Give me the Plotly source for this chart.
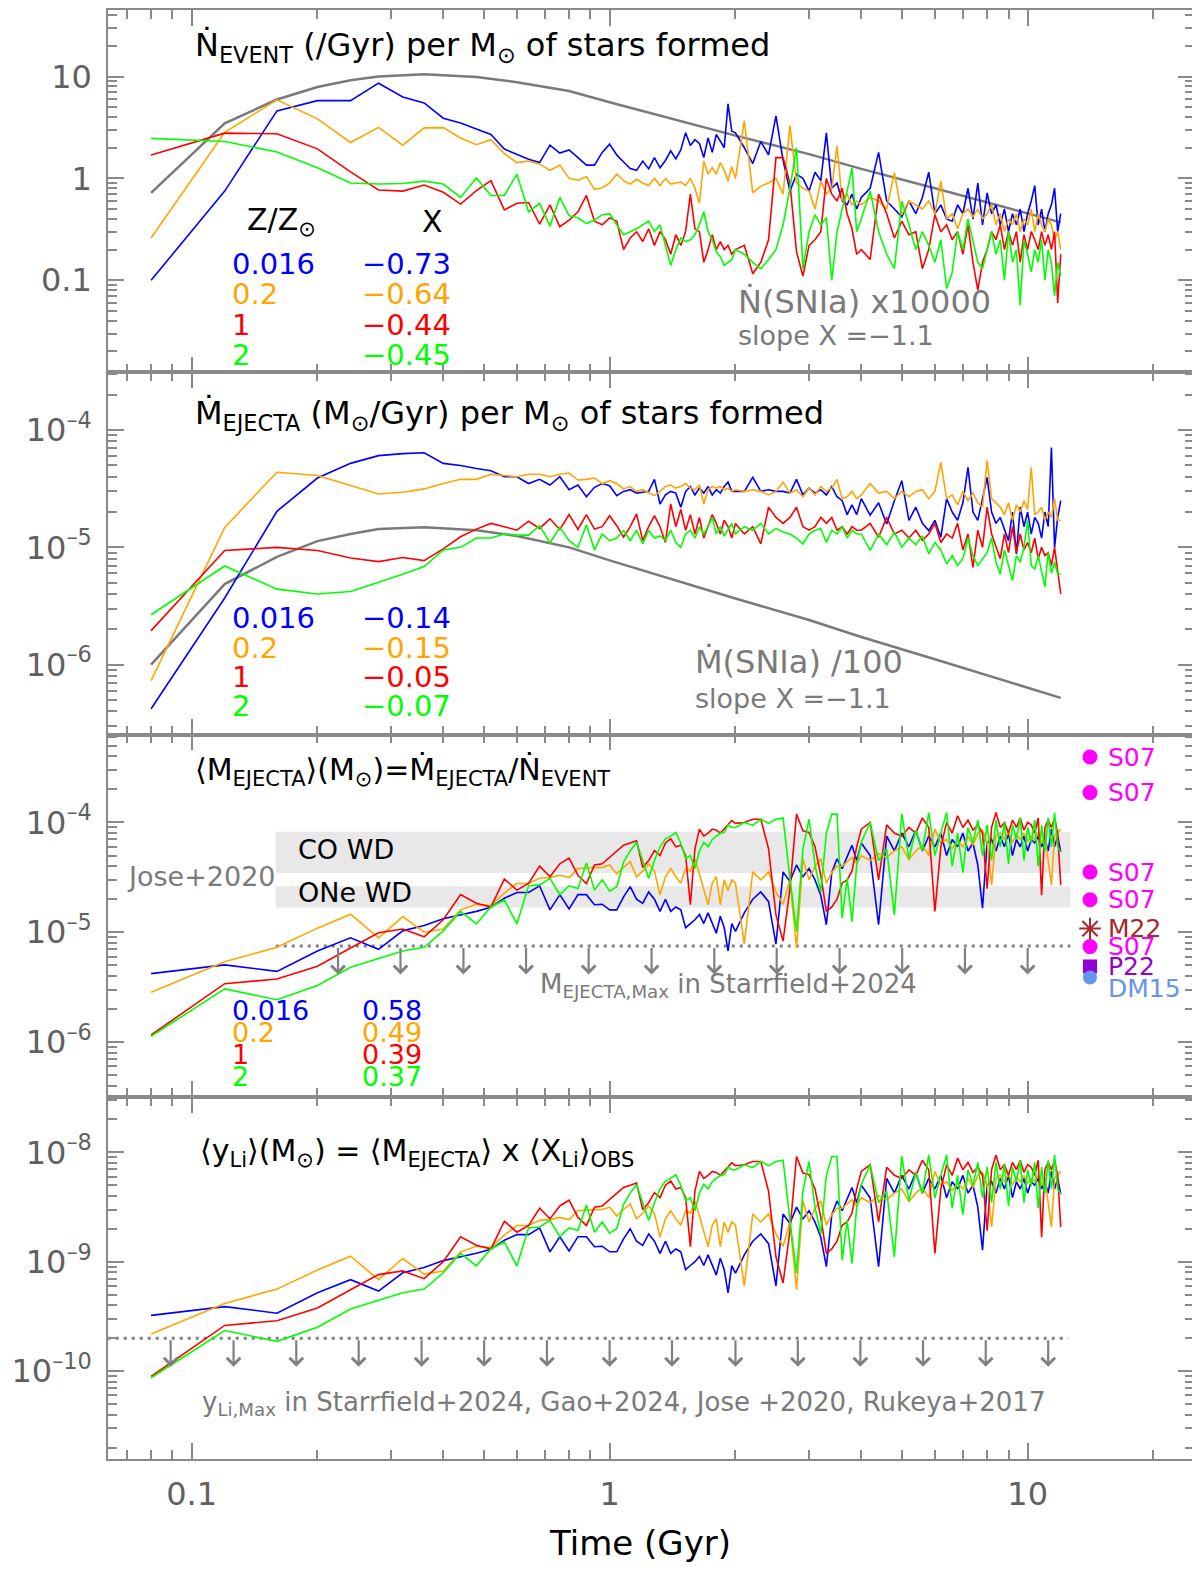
import math
import plotly.graph_objects as go
from plotly.subplots import make_subplots

# model time grid (Gyr)
TIME = [0.08, 0.12, 0.16, 0.2, 0.24, 0.28, 0.32, 0.36, 0.4, 0.44, 0.48, 0.52, 0.56, 0.6, 0.64, 0.68, 0.72, 0.76, 0.8, 0.84, 0.88, 0.92, 0.96, 1.0,
        1.04, 1.08, 1.12, 1.16, 1.2, 1.24, 1.28, 1.32, 1.36, 1.4, 1.44, 1.48, 1.52, 1.56, 1.6, 1.64, 1.68, 1.72, 1.76, 1.8, 1.84, 1.88, 1.92, 1.96, 2.0,
        2.1, 2.2, 2.3, 2.4, 2.5, 2.6, 2.7, 2.8, 2.9, 3.0, 3.1, 3.2, 3.3, 3.4, 3.5, 3.6, 3.7, 3.8, 3.9, 4.0,
        4.2, 4.4, 4.6, 4.8, 5.0, 5.2, 5.4, 5.6, 5.8, 6.0, 6.2, 6.4, 6.6, 6.8, 7.0, 7.2, 7.4, 7.6, 7.8, 8.0,
        8.2, 8.4, 8.6, 8.8, 9.0, 9.2, 9.4, 9.6, 9.8, 10.0, 10.2, 10.4, 10.6, 10.8, 11.0, 11.2, 11.4, 11.6, 11.8, 12.0]

Z_LABELS = ["0.016", "0.2", "1", "2"]
COLORS = ["#0000ff", "#ffa500", "#ff0000", "#00ff00"]
SLOPE_NDOT = ["\u22120.73", "\u22120.64", "\u22120.44", "\u22120.45"]
SLOPE_MDOT = ["\u22120.14", "\u22120.15", "\u22120.05", "\u22120.07"]
SLOPE_MEJ = ["0.58", "0.49", "0.39", "0.37"]

# N_dot event rate (/Gyr per Msun formed)
NDOT_BLUE = [0.1, 0.75, 4.6, 5.8, 5.8, 8.6, 6.3, 5.5, 3.9, 3.5, 3.05, 2.7, 1.94, 1.73, 1.54, 1.43, 2.12, 1.77, 1.9, 1.6, 1.35, 1.35, 1.8, 2.17,
             1.7, 1.45, 1.25, 1.2, 1.48, 1.24, 1.6, 1.27, 1.5, 1.86, 1.55, 1.9, 2.8, 2.1, 2.4, 2.2, 1.6, 2.5, 1.8, 2.7, 2.3, 2.0, 5.4, 2.9, 2.8,
             2.0, 1.4, 2.3, 1.7, 4.1, 1.5, 0.75, 1.1, 1.0, 0.75, 1.15, 0.95, 2.8, 0.8, 0.9, 0.6, 0.55, 0.7, 0.5, 0.65,
             0.8, 1.8, 0.6, 0.5, 0.42, 0.6, 0.45, 0.65, 1.15, 0.45, 0.55, 0.4, 0.38, 0.55, 0.45, 0.8, 0.4, 0.9, 0.35, 0.72,
             0.45, 0.55, 0.35, 0.5, 0.3, 0.45, 0.35, 0.5, 0.3, 0.45, 0.6, 0.85, 0.35, 0.5, 0.3, 0.45, 0.55, 0.8, 0.3, 0.45]
NDOT_ORANGE = [0.26, 2.83, 5.9, 3.84, 2.25, 3.17, 2.12, 3.13, 3.15, 2.49, 2.14, 2.4, 1.75, 1.43, 1.48, 1.38, 1.2, 1.35, 1.0, 0.96, 1.04, 0.78, 0.81, 0.9,
               1.1, 0.95, 0.88, 0.98, 0.9, 0.85, 1.0, 0.85, 1.0, 0.88, 0.9, 0.92, 0.85, 1.0, 0.8, 0.57, 1.48, 1.1, 1.27, 1.1, 1.43, 1.2, 0.94, 1.3, 1.0,
               3.7, 0.72, 0.84, 0.9, 1.0, 0.7, 3.3, 0.9, 0.8, 0.75, 0.5, 0.94, 0.7, 0.8, 2.09, 0.6, 0.7, 0.55, 0.6, 0.55,
               0.65, 0.6, 0.5, 1.14, 0.44, 0.6, 0.55, 0.5, 0.6, 0.45, 0.94, 0.4, 0.45, 0.32, 0.45, 0.5, 0.42, 0.5, 0.4, 0.45,
               0.55, 0.35, 0.45, 0.3, 0.4, 0.35, 0.45, 0.3, 0.4, 0.35, 0.5, 0.3, 0.45, 0.35, 0.3, 0.4, 0.35, 0.25, 0.3, 0.2]
NDOT_RED = [1.7, 2.78, 2.74, 1.95, 1.16, 0.77, 0.75, 0.86, 0.73, 0.56, 0.76, 0.95, 0.49, 0.57, 0.58, 0.355, 0.55, 0.335, 0.39, 0.47, 0.68, 0.38, 0.35, 0.41,
            0.38, 0.2, 0.26, 0.3, 0.24, 0.32, 0.22, 0.3, 0.25, 0.18, 0.28, 0.22, 0.3, 0.7, 0.32, 0.3, 0.15, 0.2, 0.28, 0.2, 0.24, 0.2, 0.22, 0.18, 0.2,
            0.22, 0.116, 0.15, 0.25, 1.6, 1.6, 0.9, 0.19, 0.11, 0.22, 0.25, 0.3, 1.0, 0.7, 0.6, 0.8, 0.45, 0.32, 0.18, 0.2,
            0.16, 0.7, 0.45, 0.26, 0.38, 0.28, 0.3, 0.13, 0.2, 0.44, 0.3, 0.35, 0.25, 0.3, 0.18, 0.35, 0.15, 0.08, 0.15, 0.2,
            0.3, 0.25, 0.35, 0.2, 0.3, 0.22, 0.3, 0.15, 0.28, 0.2, 0.3, 0.25, 0.2, 0.3, 0.22, 0.28, 0.2, 0.3, 0.06, 0.18]
NDOT_GREEN = [2.47, 2.3, 1.82, 1.27, 0.9, 0.88, 0.89, 0.94, 0.88, 0.65, 1.01, 0.68, 0.68, 1.1, 0.47, 0.57, 0.34, 0.65, 0.43, 0.41, 0.36, 0.39, 0.44, 0.45,
              0.35, 0.28, 0.3, 0.32, 0.35, 0.38, 0.3, 0.35, 0.22, 0.14, 0.2, 0.26, 0.24, 0.25, 0.28, 0.35, 0.47, 0.3, 0.25, 0.19, 0.17, 0.14, 0.15, 0.16, 0.2,
              0.18, 0.15, 0.13, 0.16, 0.2, 0.35, 0.8, 2.0, 0.13, 0.3, 0.44, 0.35, 0.41, 0.1, 0.3, 0.5, 0.75, 1.27, 0.3, 0.4,
              0.75, 0.3, 0.18, 0.13, 0.6, 0.35, 0.2, 0.3, 0.22, 0.15, 0.25, 0.083, 0.12, 0.3, 0.2, 0.4, 0.25, 0.15, 0.13, 0.2,
              0.3, 0.18, 0.25, 0.1, 0.3, 0.15, 0.2, 0.057, 0.25, 0.18, 0.12, 0.2, 0.15, 0.25, 0.1, 0.2, 0.15, 0.07, 0.15, 0.11]

# M_dot ejecta rate, in units of 1e-5 Msun/Gyr per Msun formed
MDOT_UNIT = 1e-5
MDOT_BLUE = [0.042, 0.37, 2.03, 3.9, 5.2, 6.05, 6.3, 6.4, 5.2, 4.98, 4.7, 4.5, 4.0, 4.0, 3.5, 3.8, 3.4, 4.0, 3.1, 3.4, 2.7, 3.25, 3.5, 3.35,
             2.76, 3.0, 3.1, 2.9, 2.95, 3.0, 3.8, 2.34, 2.8, 3.0, 2.9, 2.2, 3.0, 3.3, 2.8, 3.2, 2.9, 3.3, 2.8, 3.1, 2.9, 3.3, 3.6, 3.0, 3.0,
             3.0, 3.95, 3.0, 3.1, 3.0, 3.0, 2.9, 3.8, 2.8, 3.2, 2.9, 3.1, 2.8, 3.3, 2.7, 2.5, 1.9, 2.3, 1.9, 2.6,
             1.88, 2.4, 1.58, 2.5, 3.7, 1.7, 2.2, 1.6, 1.39, 1.7, 1.22, 2.6, 2.0, 1.7, 2.4, 4.8, 2.0, 1.7, 2.6, 3.95,
             2.0, 1.6, 1.8, 1.4, 1.14, 2.0, 0.88, 2.2, 1.5, 2.0, 1.3, 1.8, 1.6, 1.2, 2.0, 1.5, 7.1, 1.0, 1.8, 2.5]
MDOT_ORANGE = [0.073, 1.48, 4.37, 4.1, 3.37, 2.85, 2.95, 3.15, 3.5, 3.8, 3.8, 4.2, 4.1, 4.0, 4.2, 4.2, 4.0, 4.2, 4.3, 3.75, 3.8, 3.9, 3.5, 3.7,
               3.5, 3.15, 3.3, 3.0, 3.1, 2.9, 2.76, 3.0, 3.3, 3.4, 3.2, 3.3, 3.5, 3.2, 3.1, 3.4, 2.34, 3.1, 3.3, 3.2, 3.3, 3.1, 3.2, 3.0, 3.1,
               3.0, 3.1, 3.0, 2.8, 3.0, 3.6, 2.9, 3.1, 2.7, 3.2, 2.8, 3.3, 3.0, 3.2, 3.8, 2.6, 2.7, 3.0, 2.6, 2.8,
               3.5, 2.9, 3.0, 2.6, 3.0, 2.7, 3.0, 3.1, 2.6, 3.0, 5.3, 2.6, 2.8, 2.3, 3.0, 2.5, 2.9, 2.4, 2.2, 5.5,
               2.6, 2.4, 2.2, 1.9, 2.4, 1.7, 2.3, 2.0, 2.5, 2.1, 4.8, 1.9, 2.0, 2.2, 1.7, 2.0, 1.8, 2.6, 1.7, 1.7]
MDOT_RED = [0.195, 0.94, 1.0, 0.94, 0.81, 0.755, 0.82, 0.77, 0.97, 1.23, 1.43, 1.6, 1.5, 1.4, 1.67, 1.45, 1.75, 1.42, 1.9, 1.42, 1.9, 1.43, 1.5, 1.86,
            1.53, 1.22, 1.5, 1.93, 1.14, 1.5, 1.86, 1.5, 1.1, 2.34, 1.5, 2.1, 1.4, 1.9, 1.3, 1.8, 1.2, 1.5, 1.9, 1.6, 1.3, 1.7, 1.5, 1.2, 1.6,
            1.3, 1.5, 1.07, 2.2, 1.8, 1.6, 1.8, 2.2, 1.5, 1.4, 1.5, 1.8, 1.6, 1.8, 1.4, 1.5, 1.3, 1.5, 1.4, 1.4,
            1.6, 1.22, 1.8, 1.3, 1.4, 1.2, 1.4, 1.15, 1.3, 1.6, 1.1, 1.3, 1.2, 1.6, 0.95, 1.3, 0.675, 1.4, 1.0, 2.2,
            1.3, 1.0, 0.8, 1.3, 0.9, 1.5, 0.9, 1.3, 0.95, 1.1, 0.9, 1.2, 0.8, 1.0, 0.85, 0.9, 0.7, 1.0, 0.6, 0.4]
MDOT_GREEN = [0.266, 0.693, 0.44, 0.40, 0.42, 0.50, 0.59, 0.685, 0.95, 1.0, 1.2, 1.2, 1.3, 1.27, 1.27, 1.53, 1.09, 1.48, 1.14, 1.0, 1.56, 0.95, 1.3, 1.14,
              1.2, 1.39, 1.14, 1.4, 1.07, 1.4, 1.2, 1.25, 1.15, 1.4, 1.1, 1.0, 1.3, 1.4, 1.2, 1.5, 1.3, 1.5, 1.8, 1.3, 1.5, 1.25, 1.4, 1.6, 1.3,
              1.5, 1.4, 1.6, 1.3, 1.45, 1.35, 1.3, 1.2, 1.07, 1.3, 1.4, 1.45, 1.1, 1.4, 1.3, 1.5, 1.2, 1.4, 1.3, 1.3,
              0.94, 1.3, 1.05, 1.35, 1.0, 1.2, 1.05, 1.25, 0.88, 1.1, 0.95, 0.72, 0.85, 0.7, 0.8, 1.2, 0.85, 0.7, 0.8, 0.9,
              1.2, 0.75, 0.59, 0.95, 0.7, 0.52, 0.85, 0.75, 1.0, 1.7, 0.7, 0.65, 0.85, 0.6, 0.46, 0.9, 0.6, 0.75, 0.59, 0.59]

# <M_ejecta> per event, in units of 1e-5 Msun
MEJ_UNIT = 1e-5
MEJ_BLUE = [0.42, 0.505, 0.44, 0.675, 0.89, 0.70, 1.03, 1.15, 1.33, 1.44, 1.55, 1.69, 2.04, 2.3, 2.3, 2.65, 1.6, 2.2, 1.63, 2.2, 2.2, 1.78, 1.8, 1.6,
            1.6, 2.1, 2.6, 2.0, 1.83, 2.33, 2.0, 1.55, 2.0, 1.55, 1.7, 1.6, 1.1, 1.2, 1.3, 1.45, 1.2, 1.5, 1.2, 0.98, 1.4, 1.1, 0.675, 1.2, 1.02,
            1.5, 2.0, 2.33, 1.9, 0.78, 3.55, 2.9, 4.1, 3.2, 3.8, 3.0, 2.18, 1.17, 3.5, 4.67, 3.8, 4.8, 6.2, 4.5, 6.5,
            5.0, 1.17, 7.5, 5.5, 8.0, 6.0, 8.5, 5.5, 7.5, 6.0, 8.0, 5.0, 7.0, 6.0, 8.0, 5.5, 6.5, 4.1, 1.66, 6.5,
            7.0, 5.5, 7.5, 6.0, 8.0, 5.0, 7.0, 6.0, 7.5, 5.5, 7.0, 6.5, 7.5, 6.0, 7.0, 5.5, 8.7, 6.0, 7.5, 5.4]
MEJ_ORANGE = [0.284, 0.54, 0.73, 1.09, 1.46, 0.89, 1.39, 1.0, 1.07, 1.6, 1.8, 1.75, 2.27, 2.78, 2.78, 3.1, 3.15, 3.3, 3.15, 3.8, 3.85, 3.9, 3.9, 4.1,
              3.4, 3.9, 4.4, 3.2, 3.6, 4.2, 3.6, 2.18, 3.2, 3.8, 3.2, 2.8, 3.8, 3.6, 4.67, 3.4, 2.4, 1.78, 2.8, 3.2, 1.78, 3.0, 2.4, 3.0, 2.8,
              0.78, 3.55, 3.0, 3.55, 2.33, 1.8, 3.0, 0.72, 4.67, 3.0, 4.0, 4.67, 2.8, 3.5, 4.0, 4.0, 4.4, 4.8, 4.2, 5.0,
              4.5, 5.2, 4.8, 5.5, 6.0, 4.6, 5.5, 6.2, 5.0, 8.7, 6.5, 7.0, 5.8, 6.8, 6.0, 7.5, 6.2, 8.0, 8.5, 6.6,
              2.7, 7.5, 8.0, 7.0, 8.2, 6.5, 7.8, 7.0, 8.0, 6.8, 7.5, 7.0, 8.0, 6.5, 7.5, 4.5, 2.7, 7.5, 8.0, 8.7]
MEJ_RED = [0.116, 0.34, 0.375, 0.49, 0.72, 0.99, 1.07, 0.91, 1.3, 2.2, 1.84, 1.7, 3.05, 2.42, 2.78, 4.0, 3.2, 4.2, 4.74, 3.3, 2.78, 4.1, 4.2, 4.84,
           5.5, 6.2, 6.5, 6.8, 3.9, 4.5, 5.55, 5.0, 6.5, 7.1, 6.0, 6.2, 5.0, 1.78, 5.75, 8.7, 7.5, 8.0, 8.7, 8.5, 8.0, 8.7, 9.5, 10.4, 9.8,
           10.0, 10.7, 10.7, 5.75, 1.44, 0.83, 2.5, 11.9, 8.4, 8.1, 6.0, 3.3, 1.55, 1.7, 2.0, 2.8, 3.0, 3.6, 6.0, 8.7,
           10.0, 3.0, 9.5, 8.0, 7.5, 9.0, 8.0, 11.0, 9.0, 1.55, 6.0, 10.0, 8.0, 11.5, 9.0, 10.5, 8.5, 9.5, 8.0, 2.5,
           9.0, 12.3, 9.0, 10.0, 8.0, 10.5, 9.0, 11.0, 8.5, 10.0, 9.5, 8.0, 11.0, 2.18, 9.0, 10.5, 9.0, 11.0, 8.0, 2.7]
MEJ_GREEN = [0.113, 0.305, 0.243, 0.327, 0.48, 0.575, 0.675, 0.73, 1.03, 1.55, 1.19, 1.7, 1.97, 1.19, 2.65, 2.7, 3.1, 2.2, 2.65, 2.5, 4.28, 2.42, 3.0, 2.37,
             2.6, 4.35, 5.5, 6.6, 4.5, 3.1, 4.5, 6.0, 7.1, 7.5, 8.1, 6.5, 4.67, 5.0, 3.8, 5.5, 6.6, 6.0, 7.0, 7.5, 8.0, 8.1, 9.5, 9.0, 9.0,
             10.0, 9.4, 10.7, 9.8, 10.7, 11.0, 3.1, 1.02, 5.75, 10.7, 4.1, 2.33, 8.0, 11.9, 11.9, 1.34, 3.1, 1.25, 4.1, 6.6,
             10.0, 4.5, 5.75, 1.44, 12.0, 4.67, 8.5, 5.5, 12.3, 5.0, 8.0, 12.3, 4.0, 8.0, 3.5, 9.0, 6.5, 10.5, 5.0, 9.5,
             4.5, 10.5, 6.0, 10.0, 4.2, 9.5, 7.0, 11.0, 4.5, 9.0, 6.5, 10.5, 4.0, 9.5, 5.5, 11.0, 6.0, 12.3, 6.0, 5.4]

# SNIa reference curves (grey)
SNIA_T = [0.08, 0.12, 0.16, 0.2, 0.24, 0.28, 0.36, 0.48, 0.6, 0.8, 1.0, 1.5, 2.0, 3.0, 4.0, 6.0, 8.0, 10.0, 12.0]
SNIA_NDOT = [0.72, 3.47, 5.95, 7.9, 9.2, 10.0, 10.5, 9.9, 8.8, 7.2, 5.6, 3.6, 2.63, 1.73, 1.24, 0.8, 0.58, 0.45, 0.37]  # x10000
SNIA_MDOT = [0.1, 0.486, 0.83, 1.13, 1.3, 1.43, 1.48, 1.4, 1.25, 1.0, 0.775, 0.50, 0.366, 0.24, 0.172, 0.111, 0.081, 0.064, 0.052]  # /100, 1e-5

X_LI_OBS = 7.7e-5          # <X_Li>_OBS
MEJ_MAX = 7.5e-6           # Starrfield+2024
YLI_MAX = 2.0e-10
JOSE_T = [0.159, 12.66]
JOSE_CO = [3.47e-5, 8.24e-5]
JOSE_ONE = [1.68e-5, 2.62e-5]
YLI_T = [0.063, 12.5]
LIMIT_T3 = [0.224, 0.316, 0.447, 0.631, 0.891, 1.26, 1.78, 2.51, 3.55, 5.01, 7.08, 10.0]
LIMIT_T4 = [0.0891, 0.126, 0.178, 0.251, 0.355, 0.501, 0.708, 1.0, 1.41, 2.0, 2.82, 3.98, 5.62, 7.94, 11.2]

# literature <M_ejecta> values shown at the right edge
REF_T = 14.1
S07 = [3.94e-4, 1.87e-4, 3.53e-5, 1.98e-5, 7.4e-6]
M22 = [1.08e-5]
P22 = [4.87e-6]
DM15 = [3.87e-6]

FONT = "DejaVu Sans"
GRAY = "#7a7a7a"
AXC = "#8a8a8a"

SERIES = list(zip(COLORS, [NDOT_BLUE, NDOT_ORANGE, NDOT_RED, NDOT_GREEN],
                  [MDOT_BLUE, MDOT_ORANGE, MDOT_RED, MDOT_GREEN],
                  [MEJ_BLUE, MEJ_ORANGE, MEJ_RED, MEJ_GREEN]))

fig = make_subplots(rows=4, cols=1, shared_xaxes=True, vertical_spacing=0)


def line(x, y, color, width=1.6, row=1, dash=None):
    fig.add_trace(go.Scatter(x=x, y=y, mode="lines", line=dict(color=color, width=width, dash=dash),
                             showlegend=False, hoverinfo="skip"), row=row, col=1)


# grey SNIa curves
line(SNIA_T, SNIA_NDOT, GRAY, 2.5, row=1)
line(SNIA_T, [v * MDOT_UNIT for v in SNIA_MDOT], GRAY, 2.5, row=2)

# Jose+2020 bands
for lo, hi in (JOSE_CO, JOSE_ONE):
    fig.add_trace(go.Scatter(x=[JOSE_T[0], JOSE_T[1], JOSE_T[1], JOSE_T[0], JOSE_T[0]], y=[lo, lo, hi, hi, lo],
                             mode="lines", fill="toself", fillcolor="#e8e8e8",
                             line=dict(width=0, color="rgba(0,0,0,0)"), showlegend=False, hoverinfo="skip"),
                  row=3, col=1)

# upper limits
line(JOSE_T, [MEJ_MAX, MEJ_MAX], "#808080", 3, row=3, dash="3px,5px")
line(YLI_T, [YLI_MAX, YLI_MAX], "#808080", 3, row=4, dash="3px,5px")

for color, nd, md, mej in SERIES:
    line(TIME, nd, color, row=1)
    line(TIME, [v * MDOT_UNIT for v in md], color, row=2)
    line(TIME, [v * MEJ_UNIT for v in mej], color, row=3)
    line(TIME, [v * MEJ_UNIT * X_LI_OBS for v in mej], color, row=4)

# literature markers, labels as annotations next to them
REFS = [("S07", "#ff00ff", "circle", S07, 13, 0),
        ("M22", "#a52a2a", "asterisk-open", M22, 18, 0),
        ("P22", "#9400d3", "square", P22, 12, 0),
        ("DM15", "#6495ed", "circle", DM15, 12, -11)]
for name, col, sym, vals, size, dy in REFS:
    fig.add_trace(go.Scatter(x=[REF_T] * len(vals), y=vals, mode="markers",
                             marker=dict(symbol=sym, size=size, color=col, line=dict(width=2, color=col)),
                             showlegend=False, hoverinfo="skip", cliponaxis=False), row=3, col=1)
    for v in vals:
        fig.add_annotation(x=math.log10(REF_T), y=math.log10(v), xref="x3", yref="y3", text=name,
                           showarrow=False, xanchor="left", yanchor="middle", xshift=16, yshift=dy,
                           font=dict(family=FONT, size=25, color=col))

# upper-limit arrows
for t in LIMIT_T3:
    fig.add_annotation(x=math.log10(t), y=math.log10(MEJ_MAX) - 0.26, xref="x3", yref="y3", text="",
                       showarrow=True, ax=0, ay=-28, arrowhead=4, arrowsize=1.2, arrowwidth=2.2, arrowcolor="#808080")
for t in LIMIT_T4:
    fig.add_annotation(x=math.log10(t), y=math.log10(YLI_MAX) - 0.26, xref="x4", yref="y4", text="",
                       showarrow=True, ax=0, ay=-28, arrowhead=4, arrowsize=1.2, arrowwidth=2.2, arrowcolor="#808080")

# page pixel -> paper (plot area spans x 108..1194, y 10..1459 on the page)
def note(px, py, text, size=28, color="black", xanchor="left"):
    fig.add_annotation(x=(px - 108) / 1086, y=(1459 - py) / 1449, xref="paper", yref="paper", text=text,
                       showarrow=False, xanchor=xanchor, yanchor="middle",
                       font=dict(family=FONT, size=size, color=color))


SUN = "<sub>\u2299</sub>"
note(193, 47, "\u1e44<sub>EVENT</sub> (/Gyr) per M" + SUN + " of stars formed", 32)
note(245, 222, "Z/Z" + SUN, 30)
note(420, 222, "X", 30)
note(736, 302, "\u1e44(SNIa) x10000", 32, GRAY)
note(736, 335, "slope X =\u22121.1", 27, GRAY)

note(193, 415, "\u1e40<sub>EJECTA</sub> (M" + SUN + "/Gyr) per M" + SUN + " of stars formed", 32)
note(693, 662, "\u1e40(SNIa) /100", 32, GRAY)
note(693, 698, "slope X =\u22121.1", 27, GRAY)

note(193, 772, "\u27e8M<sub>EJECTA</sub>\u27e9(M" + SUN + ")=\u1e40<sub>EJECTA</sub>/\u1e44<sub>EVENT</sub>", 30)
note(296, 849, "CO WD", 27)
note(296, 892, "ONe WD", 27)
note(125, 876, "Jose+2020", 27, GRAY)
note(538, 985, "M<sub>EJECTA,Max</sub> in Starrfield+2024", 26, GRAY)

note(198, 1152, "\u27e8y<sub>Li</sub>\u27e9(M" + SUN + ") = \u27e8M<sub>EJECTA</sub>\u27e9 x \u27e8X<sub>Li</sub>\u27e9<sub>OBS</sub>", 30)
note(200, 1403, "y<sub>Li,Max</sub> in Starrfield+2024, Gao+2024, Jose +2020, Rukeya+2017", 26, GRAY)

note(640, 1543, "Time (Gyr)", 34, "black", "center")

for ys, s1, s2, fs in (([264, 294, 325, 355], Z_LABELS, SLOPE_NDOT, 29),
                       ([618, 648, 677, 706], Z_LABELS, SLOPE_MDOT, 29),
                       ([1010, 1032, 1054, 1076], Z_LABELS, SLOPE_MEJ, 27)):
    for y, a, b, c in zip(ys, s1, s2, COLORS):
        note(230, y, a, fs, c)
        note(360, y, b, fs, c)

# axes
FRAME = dict(type="log", showline=True, linecolor=AXC, linewidth=1.5, mirror="allticks", automargin=False,
             ticks="inside", ticklen=16, tickwidth=1.5, tickcolor=AXC, showgrid=False, zeroline=False,
             tickfont=dict(family=FONT, size=32, color="#606060"))
MINOR = dict(ticks="inside", ticklen=9, tickwidth=1.5, tickcolor=AXC, showgrid=False)

YRANGES = [(-1.903, 1.653), (-6.596, -3.507), (-6.498, -3.199), (-10.803, -7.492)]
YTICKS = [[0.1, 1, 10], [1e-6, 1e-5, 1e-4], [1e-6, 1e-5, 1e-4], [1e-10, 1e-9, 1e-8]]
YTEXT = [["0.1", "1", "10"],
         ["10<sup>\u20136</sup>", "10<sup>\u20135</sup>", "10<sup>\u20134</sup>"],
         ["10<sup>\u20136</sup>", "10<sup>\u20135</sup>", "10<sup>\u20134</sup>"],
         ["10<sup>\u201310</sup>", "10<sup>\u20139</sup>", "10<sup>\u20138</sup>"]]

for i in range(4):
    lo, hi = YRANGES[i]
    minor_vals = [m * 10 ** k for k in range(math.floor(lo), math.ceil(hi) + 1) for m in range(2, 10)]
    fig.update_yaxes(row=i + 1, col=1, range=list(YRANGES[i]), tickvals=YTICKS[i], ticktext=YTEXT[i],
                     ticklabelstandoff=8, minor=dict(tickvals=minor_vals, **MINOR), **FRAME)

XMINOR = [m * 10 ** k for k in (-2, -1, 0, 1) for m in range(2, 10)]
fig.update_xaxes(range=[-1.2, 1.398], tickvals=[0.1, 1, 10], ticktext=["0.1", "1", "10"],
                 ticklabelstandoff=6, minor=dict(tickvals=XMINOR, **MINOR), **FRAME)

# the page adds an 8px body margin, so the figure is sized to fit inside the window
fig.update_layout(width=1192, height=1555, margin=dict(l=100, r=6, t=2, b=104),
                  paper_bgcolor="white", plot_bgcolor="white", showlegend=False)

fig.write_html("out.html")
